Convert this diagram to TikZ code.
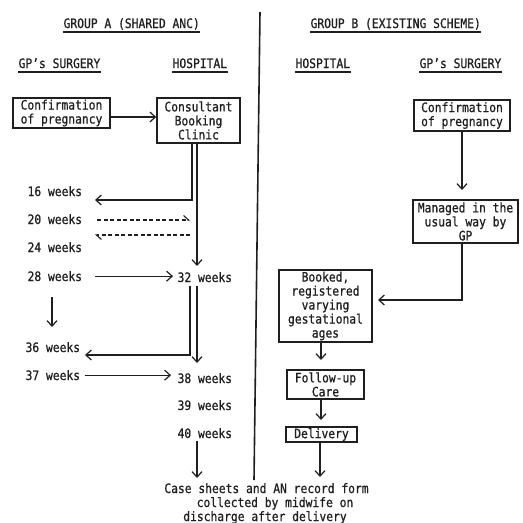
\documentclass[tikz,border=0pt]{standalone}
\usepackage{fontspec}
\setmainfont{DejaVu Sans Mono}[FakeStretch=0.87,FakeBold=0.8]
\usetikzlibrary{arrows.meta}
\definecolor{ink}{gray}{0.12}
\begin{document}
\begin{tikzpicture}[x=1pt,y=-1pt,
  font=\fontsize{13}{14}\selectfont, color=ink,
  line width=1.2pt,
  lbl/.style={inner sep=0pt, anchor=base west},
  ctr/.style={inner sep=0pt, anchor=base},
  box/.style={draw, line width=1.5pt, inner sep=0pt, align=center},
  arr/.style={-{Straight Barb[length=5.5pt,width=10pt,line width=1.2pt]}},
  harp/.style={dash pattern=on 4pt off 2.5pt, line width=1.1pt,
    -{Straight Barb[left,length=5pt,width=9pt,line width=1.1pt]}},
  uline/.style={line width=1.1pt}]
\fill[white] (0,0) rectangle (523,523);
\useasboundingbox (0,0) rectangle (523,523);

% headers
\node[lbl] (hA) at (63,28) {GROUP A (SHARED ANC)};
\node[lbl] (hB) at (310,28) {GROUP B (EXISTING SCHEME)};
\node[lbl] (gpA) at (18,68) {GP's SURGERY};
\node[lbl] (hospA) at (172,68) {HOSPITAL};
\node[lbl] (hospB) at (295,68) {HOSPITAL};
\node[lbl] (gpB) at (419,68) {GP's SURGERY};
\foreach \n in {hA,hB,gpA,hospA,hospB,gpB}
  \draw[uline] ([yshift=-4pt]\n.base west) -- ([yshift=-4pt]\n.base east);

% divider
\coordinate (dv1) at (260,12);
\coordinate (dv2) at (254,480);
\draw[line width=1.6pt] (dv1) -- (dv2);

% group A boxes
\node[box, minimum width=97pt, minimum height=30pt] (confA) at (61.5,113) {Confirmation\\of pregnancy};
\node[box, minimum width=83pt, minimum height=45pt] (clinic) at (198.5,120.5) {Consultant\\Booking\\Clinic};

% week labels
\node[lbl] (w16) at (27,196) {16 weeks};
\node[lbl] (w20) at (27,224) {20 weeks};
\node[lbl] (w24) at (27,252) {24 weeks};
\node[lbl] (w28) at (27,281) {28 weeks};
\node[lbl] (w36) at (25,352) {36 weeks};
\node[lbl] (w37) at (25,380) {37 weeks};
\node[lbl] (w32) at (177,282) {32 weeks};
\node[lbl] (w38) at (177,383) {38 weeks};
\node[lbl] (w39) at (177,410) {39 weeks};
\node[lbl] (w40) at (177,438) {40 weeks};

% group A connectors
\draw[arr] ([yshift=-4pt]confA.east) -- ([yshift=-4pt]confA.east -| clinic.west);
\coordinate (c16) at (95,200);
\draw[arr] ([xshift=-6.5pt]clinic.south) |- (c16);
\coordinate (c32top) at (197,266);
\draw[arr] ([xshift=-1.5pt]clinic.south) -- (c32top);
\coordinate (d20a) at (97,220);
\coordinate (d20b) at (190,220);
\draw[harp] (d20a) -- (d20b);
\coordinate (d24a) at (190,235);
\coordinate (d24b) at (95,235);
\draw[harp] (d24a) -- (d24b);
\draw[arr] ([xshift=12pt]w28.east) -- ([xshift=-4pt]w32.west |- w28.east);
\coordinate (gA) at (52,297);
\coordinate (gB) at (52,327);
\draw[arr] (gA) -- (gB);
\coordinate (c36) at (85,355);
\draw[arr] ([shift={(13pt,-3pt)}]w32.south west) |- (c36);
\coordinate (c38top) at (197,363);
\draw[arr] ([shift={(20pt,-3pt)}]w32.south west) -- (c38top);
\draw[arr] ([xshift=4pt]w37.east) -- ([xshift=-6pt]w38.west |- w37.east);
\coordinate (c40) at (197,478);
\draw[arr] ([shift={(20pt,-2pt)}]w40.south west) -- (c40);

% group B boxes
\node[box, minimum width=96pt, minimum height=31pt] (confB) at (462,115.5) {Confirmation\\of pregnancy};
\node[box, minimum width=105pt, minimum height=43pt] (managed) at (465.5,221.5) {Managed in the\\usual way by\\GP};
\node[box, minimum width=93pt, minimum height=72pt] (booked) at (325.5,306) {Booked,\\registered\\varying\\gestational\\ages};
\node[box, minimum width=77pt, minimum height=29pt] (follow) at (325.5,384.5) {Follow-up\\Care};
\node[box, minimum width=71pt, minimum height=15pt] (deliv) at (321.5,434.5) {Delivery};

% group B connectors
\coordinate (cm) at (462,190);
\draw[arr] (confB.south) -- (cm);
\coordinate (cb) at (378,300);
\draw[arr] ([xshift=-3.5pt]managed.south) |- (cb);
\coordinate (cf) at (321,360);
\draw[arr] ([xshift=-4.5pt]booked.south) -- (cf);
\coordinate (cd) at (321,420);
\draw[arr] ([xshift=-4.5pt]follow.south) -- (cd);
\coordinate (ce) at (320,477);
\draw[arr] ([xshift=-1.5pt]deliv.south) -- (ce);

% footer
\node[ctr] (foot1) at (266.5,493) {Case sheets and AN record form};
\node[ctr] (foot2) at (275,507) {collected by midwife on};
\node[ctr] (foot3) at (265,521) {discharge after delivery};
\end{tikzpicture}
\end{document}
